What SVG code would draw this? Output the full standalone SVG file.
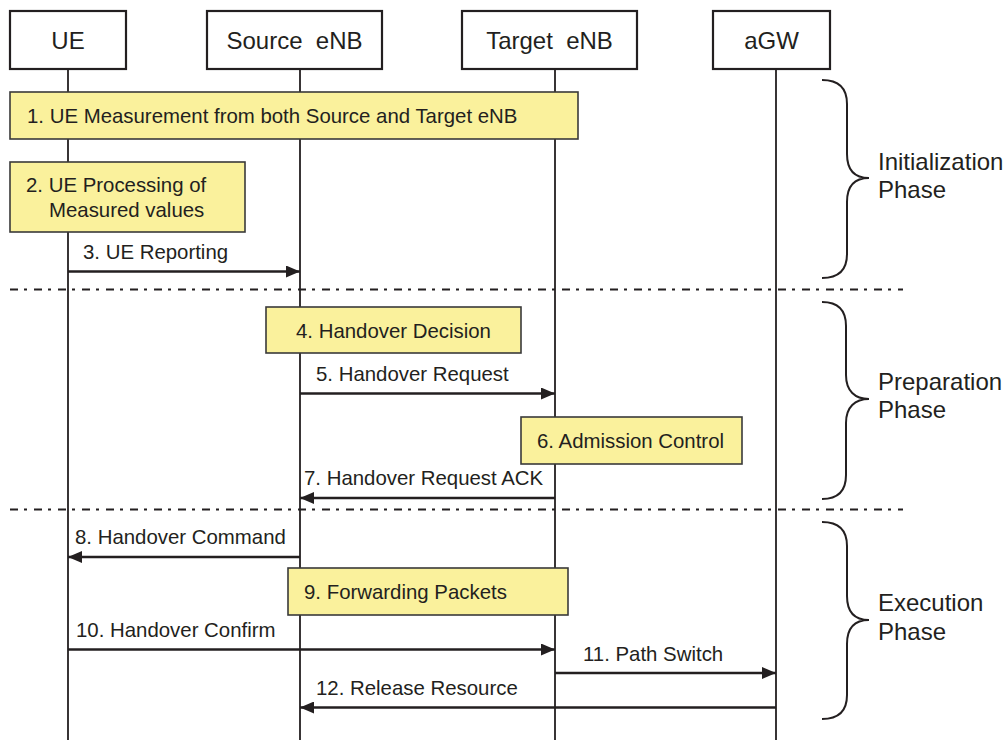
<svg xmlns="http://www.w3.org/2000/svg" width="1007" height="740" viewBox="0 0 1007 740">
  <style>
    text { font-family: "Liberation Sans", Arial, sans-serif; fill: #231f20; }
    .hdr { font-size: 24px; text-anchor: middle; }
    .lbl { font-size: 20.4px; }
    .phase { font-size: 24px; }
    .head { fill: #ffffff; stroke: #231f20; stroke-width: 2.2; }
    .step { fill: #faf19c; stroke: #3a3a3a; stroke-width: 1.6; }
    .life { stroke: #231f20; stroke-width: 1.8; fill: none; }
    .msg { stroke: #231f20; stroke-width: 2.4; fill: none; marker-end: url(#arrow); }
    .sep { stroke: #231f20; stroke-width: 1.8; stroke-dasharray: 8 6 3 7; fill: none; }
    .brace { stroke: #231f20; stroke-width: 2; fill: none; }
  </style>
  <defs>
    <marker id="arrow" viewBox="0 0 14 12" refX="14" refY="6" markerWidth="14" markerHeight="12" markerUnits="userSpaceOnUse" orient="auto">
      <path d="M0,0 L14,6 L0,12 Z" fill="#231f20"/>
    </marker>
  </defs>
  <rect width="1007" height="740" fill="#ffffff"/>

  <!-- lifelines -->
  <g id="lifelines">
    <line class="life" x1="68" y1="69" x2="68" y2="740"/>
    <line class="life" x1="300" y1="69" x2="300" y2="740"/>
    <line class="life" x1="555" y1="69" x2="555" y2="740"/>
    <line class="life" x1="776" y1="69" x2="776" y2="740"/>
  </g>

  <!-- participants -->
  <g id="ue">
    <rect class="head" x="10" y="11" width="116" height="58"/>
    <text class="hdr" x="68" y="49">UE</text>
  </g>
  <g id="source-enb">
    <rect class="head" x="207" y="11" width="175" height="58"/>
    <text class="hdr" x="294.5" y="49" xml:space="preserve">Source  eNB</text>
  </g>
  <g id="target-enb">
    <rect class="head" x="462" y="11" width="175" height="58"/>
    <text class="hdr" x="549.5" y="49" xml:space="preserve">Target  eNB</text>
  </g>
  <g id="agw">
    <rect class="head" x="713" y="11" width="117" height="58"/>
    <text class="hdr" x="771.5" y="49">aGW</text>
  </g>

  <!-- phase separators -->
  <g id="separators">
    <line class="sep" x1="10" y1="289.5" x2="903" y2="289.5"/>
    <line class="sep" x1="10" y1="509.5" x2="903" y2="509.5"/>
  </g>

  <!-- processing steps -->
  <g id="step1">
    <rect class="step" x="10" y="92" width="568" height="47"/>
    <text class="lbl" x="27" y="123">1. UE Measurement from both Source and Target eNB</text>
  </g>
  <g id="step2">
    <rect class="step" x="10" y="162" width="235" height="70"/>
    <text class="lbl" x="26" y="192">2. UE Processing of</text>
    <text class="lbl" x="49" y="217">Measured values</text>
  </g>
  <g id="step4">
    <rect class="step" x="266" y="307" width="255" height="46"/>
    <text class="lbl" x="296" y="338">4. Handover Decision</text>
  </g>
  <g id="step6">
    <rect class="step" x="521" y="417" width="221" height="47"/>
    <text class="lbl" x="537" y="448">6. Admission Control</text>
  </g>
  <g id="step9">
    <rect class="step" x="288" y="568" width="280" height="47"/>
    <text class="lbl" x="304" y="599">9. Forwarding Packets</text>
  </g>

  <!-- messages -->
  <g id="connectors">
    <line class="msg" x1="68" y1="271.5" x2="300" y2="271.5"/>
    <text class="lbl" x="83" y="259">3. UE Reporting</text>

    <line class="msg" x1="300" y1="393.5" x2="555" y2="393.5"/>
    <text class="lbl" x="316" y="381">5. Handover Request</text>

    <line class="msg" x1="555" y1="498" x2="300" y2="498"/>
    <text class="lbl" x="304" y="485">7. Handover Request ACK</text>

    <line class="msg" x1="300" y1="557" x2="68" y2="557"/>
    <text class="lbl" x="75" y="544">8. Handover Command</text>

    <line class="msg" x1="68" y1="649.5" x2="555" y2="649.5"/>
    <text class="lbl" x="76" y="637">10. Handover Confirm</text>

    <line class="msg" x1="555" y1="673" x2="776" y2="673"/>
    <text class="lbl" x="583" y="661">11. Path Switch</text>

    <line class="msg" x1="776" y1="707.5" x2="300" y2="707.5"/>
    <text class="lbl" x="316" y="695">12. Release Resource</text>
  </g>

  <!-- phase braces -->
  <g id="phase-init">
    <path class="brace" d="M822,80 C838,80 847,88 847,104 L847,154 C847,170 855,178 869,178 C855,178 847,186 847,202 L847,254 C847,270 838,278 822,278"/>
    <text class="phase" x="878" y="170">Initialization</text>
    <text class="phase" x="878" y="198">Phase</text>
  </g>
  <g id="phase-prep">
    <path class="brace" d="M822,302 C838,302 846,310 846,326 L846,375 C846,391 855,399 869,399 C855,399 846,407 846,423 L846,475 C846,491 838,499 822,499"/>
    <text class="phase" x="878" y="390">Preparation</text>
    <text class="phase" x="878" y="418">Phase</text>
  </g>
  <g id="phase-exec">
    <path class="brace" d="M822,522 C838,522 847,530 847,546 L847,596 C847,612 855,620 869,620 C855,620 847,628 847,644 L847,695 C847,711 838,719 822,719"/>
    <text class="phase" x="878" y="611">Execution</text>
    <text class="phase" x="878" y="640">Phase</text>
  </g>
</svg>
